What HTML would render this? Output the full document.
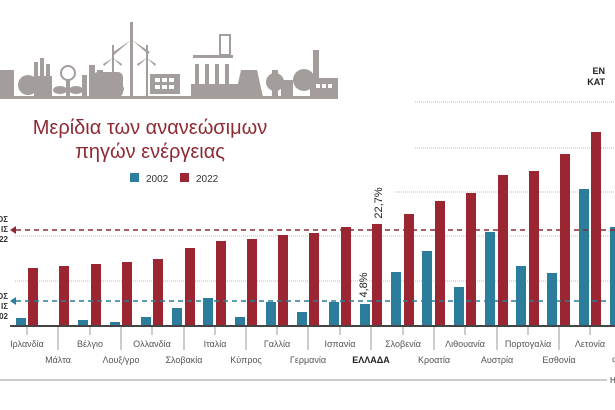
<!DOCTYPE html>
<html><head><meta charset="utf-8"><style>
html,body{margin:0;padding:0;background:#fff;width:615px;height:410px;overflow:hidden}
svg{display:block;font-family:"Liberation Sans","DejaVu Sans",sans-serif}
</style></head><body>
<svg width="615" height="410" viewBox="0 0 615 410">
<!-- skyline -->
<g fill="#a39d9b" stroke="none">
<rect x="0" y="96" width="338" height="3"/>
<rect x="0" y="70" width="14" height="27"/>
<circle cx="28" cy="85" r="10"/>
<rect x="34" y="62" width="4" height="35"/><rect x="40" y="58" width="4" height="39"/><rect x="46" y="64" width="4" height="33"/><rect x="34" y="76" width="18" height="21"/>
<circle cx="68" cy="73" r="7" fill="none" stroke="#a39d9b" stroke-width="2"/><rect x="66" y="80" width="4" height="17"/><ellipse cx="60" cy="90" rx="7" ry="4"/><ellipse cx="76" cy="90" rx="7" ry="4"/>
<rect x="82" y="75" width="5" height="22"/><rect x="89" y="65" width="6" height="32"/><rect x="97" y="70" width="6" height="27"/>
<rect x="93" y="72" width="30" height="25" rx="5"/>
<rect x="112" y="45" width="2" height="52"/><rect x="130" y="22" width="3" height="75"/><rect x="146" y="45" width="2" height="52"/>
<path d="M131 40 L112 53 L114 55 Z M132 40 L150 52 L148 54 Z M131 40 L131 22 L133 22 Z"/>
<path d="M113 58 L103 64 L104 66 Z M113 58 L122 64 L121 66 Z M147 58 L137 64 L138 66 Z M147 58 L156 64 L155 66 Z"/>
<circle cx="120" cy="89" r="4"/>
<rect x="150" y="74" width="30" height="20"/>
<rect x="195" y="64" width="4" height="33"/><rect x="205" y="64" width="4" height="33"/><rect x="215" y="64" width="4" height="33"/><rect x="225" y="64" width="4" height="33"/><rect x="191" y="84" width="48" height="13"/><rect x="193" y="55" width="40" height="3"/>
<rect x="220" y="35" width="10" height="20" fill="none" stroke="#a39d9b" stroke-width="2"/>
<path d="M235 97 L241 70 L257 70 L263 97 Z"/>
<circle cx="275" cy="82" r="9"/><rect x="272" y="70" width="6" height="27"/>
<rect x="281" y="80" width="12" height="17"/>
<circle cx="304" cy="80" r="11"/>
<rect x="313" y="50" width="6" height="47"/><rect x="310" y="78" width="28" height="19"/>
</g>
<g fill="#fff"><rect x="155" y="78" width="5" height="4"/><rect x="162" y="78" width="5" height="4"/><rect x="169" y="78" width="5" height="4"/><rect x="155" y="85" width="5" height="4"/><rect x="162" y="85" width="5" height="4"/><rect x="169" y="85" width="5" height="4"/>
<rect x="316" y="84" width="4" height="4"/><rect x="322" y="84" width="4" height="4"/><rect x="328" y="84" width="4" height="4"/></g>
<text x="605" y="74" font-size="9" font-weight="bold" fill="#222" text-anchor="end">ΕΝ</text>
<text x="605" y="85" font-size="9" font-weight="bold" fill="#222" text-anchor="end">ΚΑΤ</text>
<!-- title -->
<text x="150" y="134" font-size="20" fill="#8e2a34" text-anchor="middle">Μερίδια των ανανεώσιμων</text>
<text x="150" y="158" font-size="20" fill="#8e2a34" text-anchor="middle">πηγών ενέργειας</text>
<rect x="130" y="173" width="9" height="9" fill="#2b7d9b"/><text x="146" y="182" font-size="10" fill="#333">2002</text>
<rect x="180" y="173" width="9" height="9" fill="#9b2631"/><text x="196" y="182" font-size="10" fill="#333">2022</text>
<!-- gridlines -->
<g stroke="#bbb" stroke-width="1" stroke-dasharray="1,1">
<line x1="415" y1="102" x2="615" y2="102"/><line x1="415" y1="148" x2="615" y2="148"/><line x1="395" y1="192" x2="615" y2="192"/>
<line x1="15" y1="236" x2="615" y2="236"/><line x1="15" y1="281" x2="615" y2="281"/>
</g>
<g font-size="8" fill="#333" font-weight="bold" text-anchor="end">
<text x="8" y="222">ΟΣ</text><text x="8" y="232">ΙΣ</text><text x="8" y="242">22</text>
<text x="8" y="299">ΟΣ</text><text x="8" y="309">ΙΣ</text><text x="8" y="319">02</text>
</g>
<!-- bars -->
<g fill="#2b7d9b">
<rect x="16" y="318" width="10" height="8"/><rect x="78" y="320" width="10" height="6"/><rect x="110" y="322" width="10" height="4"/><rect x="141" y="317" width="10" height="9"/><rect x="172" y="308" width="10" height="18"/><rect x="203" y="298" width="10" height="28"/><rect x="235" y="317" width="10" height="9"/><rect x="266" y="302" width="10" height="24"/><rect x="297" y="312" width="10" height="14"/><rect x="329" y="302" width="10" height="24"/><rect x="360" y="304" width="10" height="22"/><rect x="391" y="272" width="10" height="54"/><rect x="422" y="251" width="10" height="75"/><rect x="454" y="287" width="10" height="39"/><rect x="485" y="232" width="10" height="94"/><rect x="516" y="266" width="10" height="60"/><rect x="547" y="273" width="10" height="53"/><rect x="579" y="189" width="10" height="137"/><rect x="610" y="227" width="10" height="99"/>
</g>
<g fill="#9b2631">
<rect x="28" y="268" width="10" height="58"/><rect x="59" y="266" width="10" height="60"/><rect x="91" y="264" width="10" height="62"/><rect x="122" y="262" width="10" height="64"/><rect x="153" y="259" width="10" height="67"/><rect x="185" y="248" width="10" height="78"/><rect x="216" y="241" width="10" height="85"/><rect x="247" y="239" width="10" height="87"/><rect x="278" y="235" width="10" height="91"/><rect x="309" y="233" width="10" height="93"/><rect x="341" y="227" width="10" height="99"/><rect x="372" y="224" width="10" height="102"/><rect x="404" y="214" width="10" height="112"/><rect x="435" y="201" width="10" height="125"/><rect x="466" y="193" width="10" height="133"/><rect x="498" y="175" width="10" height="151"/><rect x="529" y="171" width="10" height="155"/><rect x="560" y="154" width="10" height="172"/><rect x="591" y="132" width="10" height="194"/>
</g>
<!-- reference dashed lines -->
<line x1="16" y1="230" x2="615" y2="230" stroke="#8e2a34" stroke-width="1.5" stroke-dasharray="5,4"/>
<path d="M10 230 L16 226 L16 234 Z" fill="#8e2a34"/>
<line x1="16" y1="301" x2="615" y2="301" stroke="#2b7d9b" stroke-width="1.5" stroke-dasharray="5,4"/>
<path d="M10 301 L16 297 L16 305 Z" fill="#2b7d9b"/>
<text transform="translate(382,203) rotate(-90)" font-size="11" fill="#222" text-anchor="middle">22,7%</text>
<text transform="translate(367,285) rotate(-90)" font-size="11" fill="#222" text-anchor="middle">4,8%</text>
<!-- axis -->
<rect x="10" y="325" width="605" height="2" fill="#444"/>
<g stroke="#999" stroke-width="1">
<line x1="27" y1="327" x2="27" y2="335"/><line x1="58" y1="327" x2="58" y2="350"/><line x1="90" y1="327" x2="90" y2="335"/><line x1="121" y1="327" x2="121" y2="350"/><line x1="152" y1="327" x2="152" y2="335"/><line x1="184" y1="327" x2="184" y2="350"/><line x1="215" y1="327" x2="215" y2="335"/><line x1="246" y1="327" x2="246" y2="350"/><line x1="277" y1="327" x2="277" y2="335"/><line x1="308" y1="327" x2="308" y2="350"/><line x1="340" y1="327" x2="340" y2="335"/><line x1="371" y1="327" x2="371" y2="350"/><line x1="403" y1="327" x2="403" y2="335"/><line x1="434" y1="327" x2="434" y2="350"/><line x1="465" y1="327" x2="465" y2="335"/><line x1="497" y1="327" x2="497" y2="350"/><line x1="528" y1="327" x2="528" y2="335"/><line x1="559" y1="327" x2="559" y2="350"/><line x1="590" y1="327" x2="590" y2="335"/>
</g>
<g font-size="9" fill="#555" text-anchor="middle">
<text x="27" y="347">Ιρλανδία</text><text x="90" y="347">Βέλγιο</text><text x="152" y="347">Ολλανδία</text><text x="215" y="347">Ιταλία</text><text x="277" y="347">Γαλλία</text><text x="340" y="347">Ισπανία</text><text x="403" y="347">Σλοβενία</text><text x="465" y="347">Λιθουανία</text><text x="528" y="347">Πορτογαλία</text><text x="590" y="347">Λετονία</text>
<text x="58" y="363">Μάλτα</text><text x="121" y="363">Λουξ/γρο</text><text x="184" y="363">Σλοβακία</text><text x="246" y="363">Κύπρος</text><text x="308" y="363">Γερμανία</text><text x="371" y="363" font-weight="bold" fill="#222">ΕΛΛΑΔΑ</text><text x="434" y="363">Κροατία</text><text x="497" y="363">Αυστρία</text><text x="559" y="363">Εσθονία</text><text x="621" y="363">Φινλ</text>
</g>
<rect x="0" y="379" width="607" height="2" fill="#ccc"/>
<text x="610" y="383" font-size="8" fill="#333">Η</text>
</svg>
</body></html>
